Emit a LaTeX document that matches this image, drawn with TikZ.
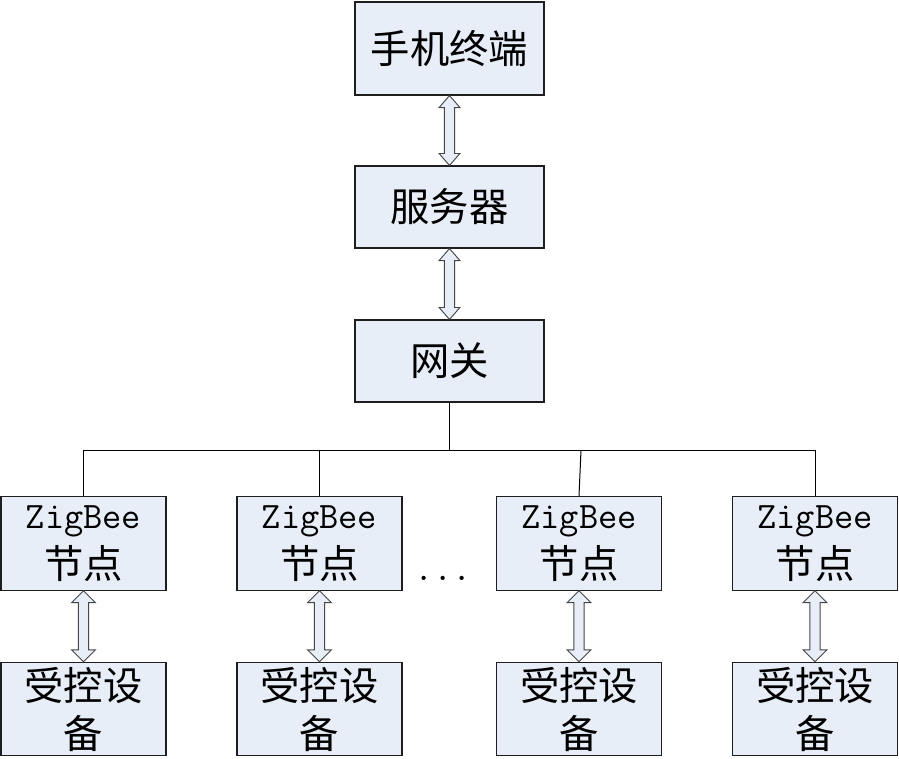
\documentclass[tikz,border=0pt]{standalone}
\usepackage{fontspec}
\newfontfamily\cjk{Noto Sans CJK SC}
\usetikzlibrary{calc}
\definecolor{boxfill}{RGB}{232,238,247}
\definecolor{edge}{RGB}{30,30,30}
\definecolor{arredge}{RGB}{70,70,70}
\newcommand\zb{{\ttfamily\fontsize{28}{35}\selectfont ZigBee}}
\newcommand\dblarr[3]{\draw[harrow] let \p1=(#1.south), \p2=(#2.north) in
 (\x1,\y1) -- (\x1+#3,\y1-9pt) -- (\x1+3.9pt,\y1-9pt) -- (\x1+3.9pt,\y2+9pt) -- (\x1+#3,\y2+9pt)
 -- (\x1,\y2) -- (\x1-#3,\y2+9pt) -- (\x1-3.9pt,\y2+9pt) -- (\x1-3.9pt,\y1-9pt) -- (\x1-#3,\y1-9pt) -- cycle;}
\begin{document}
\begin{tikzpicture}[x=0.75pt,y=-0.75pt,
  box/.style={draw=edge, fill=boxfill, line width=0.8pt, inner sep=0pt, align=center,
    font=\cjk\fontsize{29.5}{36}\selectfont},
  bigbox/.style={box, minimum width=141.75pt},
  smallbox/.style={box, minimum width=123.75pt, minimum height=70pt},
  harrow/.style={draw=arredge, fill=boxfill, line width=0.7pt, line join=miter},
  link/.style={draw=black, line width=0.75pt}]
\useasboundingbox (0,0) rectangle (899,758);

\node[bigbox, minimum height=69.75pt] (phone) at (449.5,48.5) {手机终端};
\node[bigbox, minimum height=61.5pt] (server) at (449.5,207) {服务器};
\node[bigbox, minimum height=61.5pt] (gw) at (449.5,361) {网关};

\node[smallbox] (z1) at (83.5,543.5) {\zb\\[2pt]节点};
\node[smallbox] (z2) at (319.5,543.5) {\zb\\[2pt]节点};
\node[smallbox] (z3) at (579,543.5) {\zb\\[2pt]节点};
\node[smallbox] (z4) at (815,543.5) {\zb\\[2pt]节点};

\node[smallbox] (d1) at (83.5,709) {受控设\\备};
\node[smallbox] (d2) at (319.5,709) {受控设\\备};
\node[smallbox] (d3) at (579,709) {受控设\\备};
\node[smallbox] (d4) at (815,709) {受控设\\备};

\node[anchor=base, font=\ttfamily\fontsize{28}{35}\selectfont] (dots) at (443,580) {...};

\coordinate (j) at (449.5,450);
\coordinate (j3) at (581,450);
\draw[link] (gw.south) -- (j);
\draw[link] (z1.north) |- (j) -| (z4.north);
\draw[link] (z2.north) -- (z2.north |- j);
\draw[link] (z3.north) -- (j3);

\dblarr{phone}{server}{7.8pt}
\dblarr{server}{gw}{7.8pt}
\dblarr{z1}{d1}{9pt}
\dblarr{z2}{d2}{9pt}
\dblarr{z3}{d3}{9pt}
\dblarr{z4}{d4}{9pt}
\end{tikzpicture}
\end{document}
